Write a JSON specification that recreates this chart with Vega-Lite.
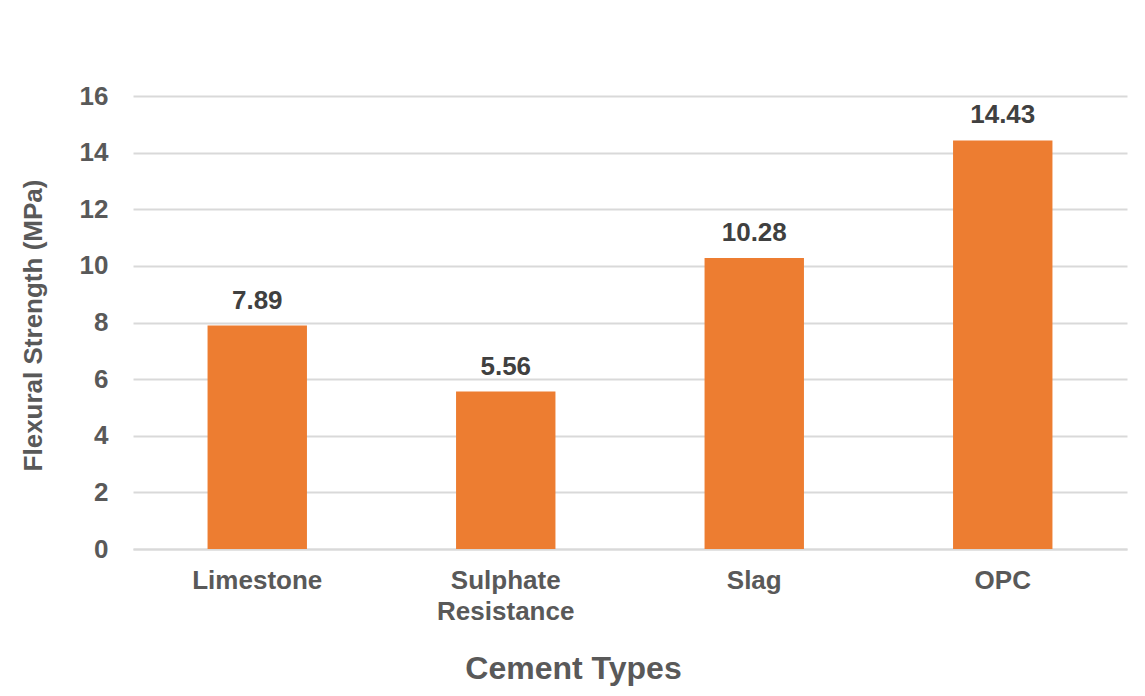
{
  "$schema": "https://vega.github.io/schema/vega-lite/v6.json",
  "width": 994,
  "height": 453,
  "autosize": {"type": "none"},
  "padding": {"left": 133, "top": 96, "right": 18, "bottom": 147},
  "background": "white",
  "config": {
    "view": {"stroke": null},
    "font": "Liberation Sans"
  },
  "data": {
    "values": [
      {"type": "Limestone", "strength": 7.89},
      {"type": "Sulphate Resistance", "strength": 5.56},
      {"type": "Slag", "strength": 10.28},
      {"type": "OPC", "strength": 14.43}
    ]
  },
  "encoding": {
    "x": {
      "field": "type",
      "type": "nominal",
      "sort": null,
      "scale": {"paddingInner": 0.6, "paddingOuter": 0.3},
      "axis": {
        "title": "Cement Types",
        "titleFont": "Liberation Sans",
        "titleFontSize": 32,
        "titleFontWeight": "bold",
        "titleColor": "#595959",
        "titleX": 440,
        "titleY": 129,
        "titleBaseline": "alphabetic",
        "titleAlign": "center",
        "labelAngle": 0,
        "labelFont": "Liberation Sans",
        "labelFontSize": 26,
        "labelFontWeight": "bold",
        "labelColor": "#595959",
        "labelPadding": 18,
        "labelLineHeight": 31,
        "labelExpr": "datum.label == 'Sulphate Resistance' ? ['Sulphate', 'Resistance'] : datum.label",
        "domain": true,
        "domainColor": "#D9D9D9",
        "domainWidth": 2,
        "ticks": false
      }
    },
    "y": {
      "field": "strength",
      "type": "quantitative",
      "scale": {"domain": [0, 16], "nice": false},
      "axis": {
        "title": "Flexural Strength (MPa)",
        "titleFont": "Liberation Sans",
        "titleFontSize": 26,
        "titleFontWeight": "bold",
        "titleColor": "#595959",
        "titleAngle": 270,
        "titleX": -100,
        "titleY": 229,
        "titleBaseline": "middle",
        "titleAlign": "center",
        "values": [0, 2, 4, 6, 8, 10, 12, 14, 16],
        "labelFont": "Liberation Sans",
        "labelFontSize": 26,
        "labelFontWeight": "bold",
        "labelColor": "#595959",
        "labelPadding": 25,
        "domain": false,
        "ticks": false,
        "grid": true,
        "gridColor": "#D9D9D9",
        "gridWidth": 2
      }
    }
  },
  "layer": [
    {"mark": {"type": "bar", "color": "#ED7D31"}},
    {
      "mark": {
        "type": "text",
        "baseline": "alphabetic",
        "dy": -17,
        "font": "Liberation Sans",
        "fontSize": 26,
        "fontWeight": "bold",
        "color": "#404040"
      },
      "encoding": {
        "text": {"field": "strength", "type": "quantitative", "format": ".2f"}
      }
    }
  ]
}
